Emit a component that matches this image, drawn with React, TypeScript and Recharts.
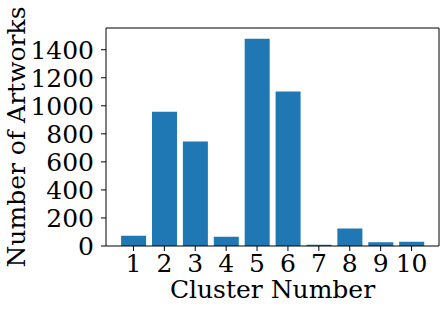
import React from 'react';
import { BarChart, Bar, XAxis, YAxis, Label, CartesianGrid } from 'recharts';

const clusters = ['1', '2', '3', '4', '5', '6', '7', '8', '9', '10'];
const artworkCounts = [74, 957, 745, 66, 1478, 1102, 9, 124, 26, 31];
const yTicks = [0, 200, 400, 600, 800, 1000, 1200, 1400];

const data = clusters.map((c, i) => ({ cluster: c, count: artworkCounts[i] }));

const FONT = 'DejaVu Serif';
const tickStyle = { fontFamily: FONT, fontSize: 25, fill: '#000' };

export default function App() {
  return (
    <div style={{ position: 'absolute', left: 0, top: 0, background: '#fff', width: 446, height: 310 }}>
      <BarChart
        width={446}
        height={310}
        data={data}
        margin={{ top: 28, right: 7, left: 0, bottom: 0 }}
        barCategoryGap="10%"
      >
        <CartesianGrid
          stroke="#000"
          strokeWidth={1}
          horizontalCoordinatesGenerator={({ offset }: any) => [offset.top]}
          verticalCoordinatesGenerator={({ offset }: any) => [offset.left + offset.width]}
        />
        <XAxis
          dataKey="cluster"
          height={64}
          padding={{ left: 12, right: 12 }}
          tick={tickStyle}
          tickSize={5}
          tickMargin={3}
          interval={0}
          axisLine={{ stroke: '#000', strokeWidth: 1 }}
          tickLine={{ stroke: '#000', strokeWidth: 1 }}
        >
          <Label
            value="Cluster Number"
            position="insideBottom"
            offset={12}
            style={{ fontFamily: FONT, fontSize: 25, fill: '#000' }}
          />
        </XAxis>
        <YAxis
          width={106}
          domain={[0, 1555]}
          ticks={yTicks}
          interval={0}
          tick={tickStyle}
          tickSize={5}
          tickMargin={7}
          allowDataOverflow
          axisLine={{ stroke: '#000', strokeWidth: 1 }}
          tickLine={{ stroke: '#000', strokeWidth: 1 }}
        >
          <Label
            value="Number of Artworks"
            angle={-90}
            position="insideLeft"
            offset={16}
            style={{ fontFamily: FONT, fontSize: 25, fill: '#000', textAnchor: 'middle' }}
          />
        </YAxis>
        <Bar dataKey="count" fill="#1f77b4" isAnimationActive={false} />
      </BarChart>
    </div>
  );
}
